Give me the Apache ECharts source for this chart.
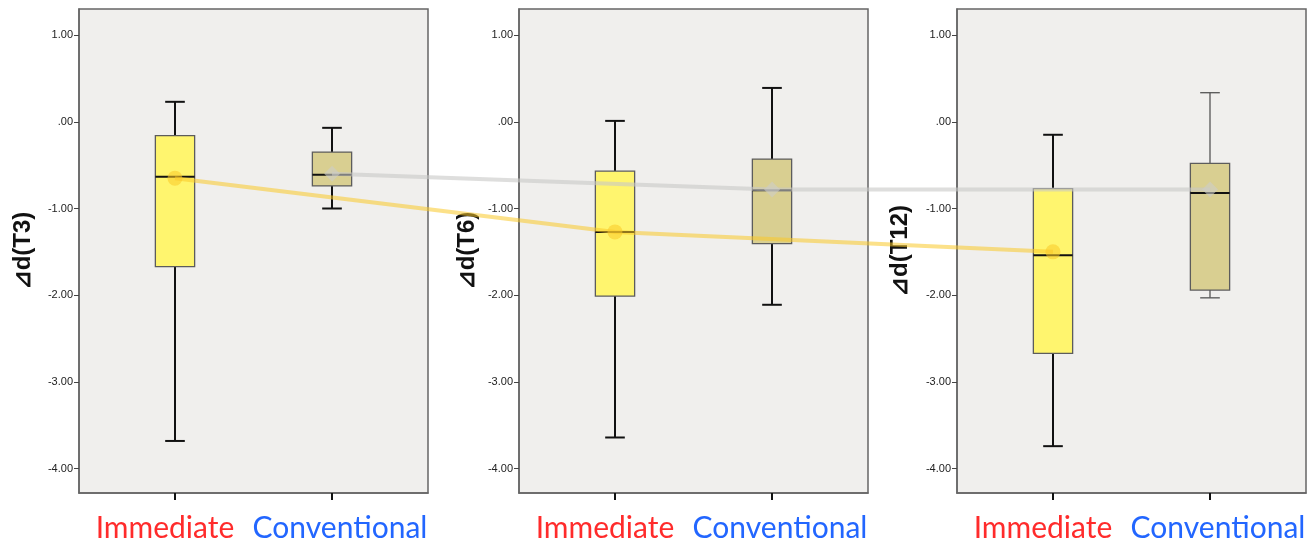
<!DOCTYPE html>
<html>
<head>
<meta charset="utf-8">
<title>delta d boxplots</title>
<script src="https://cdn.jsdelivr.net/npm/echarts@6/dist/echarts.min.js"></script>
<style>
    html, body { margin: 0; padding: 0; background: #ffffff; }
    #main { width: 1315px; height: 540px; }
</style>
</head>
<body>
<div id="main"></div>
<script>
var groupNames = ['Immediate', 'Conventional'];
var panelNames = ['⊿d(T3)', '⊿d(T6)', '⊿d(T12)'];
var yTicks = [-4, -3, -2, -1, 0, 1];
// 每个面板一组: [min, Q1, median, Q3, max]
var immediateBox = [
    [-3.68, -1.67, -0.635, -0.16, 0.23],
    [-3.64, -2.01, -1.27, -0.57, 0.01],
    [-3.74, -2.67, -1.54, -0.77, -0.15]
];
var conventionalBox = [
    [-1.00, -0.74, -0.61, -0.35, -0.07],
    [-2.11, -1.405, -0.79, -0.43, 0.39],
    [-2.03, -1.94, -0.82, -0.48, 0.335]
];
// 均值连线
var immediateMean = [-0.65, -1.27, -1.50];
var conventionalMean = [-0.60, -0.78, -0.78];

var panelLeft = [79, 519, 957];
var panelWidth = 349;
var plotTop = 9;
var plotBottom = 47;
var xMin = -0.611, xMax = 1.611;
var yMin = -4.28, yMax = 1.30;
var nameGaps = [44, 40, 45];
var unit = panelWidth / (xMax - xMin);
var overlayWidth = 1307 - panelLeft[0];

function fmtY(v) {
    var s = v.toFixed(2);
    if (s === '0.00') return '.00';
    return s;
}

function makeRender(p) {
    return function (params, api) {
        var x = api.value(0);
        var pMin = api.coord([x, api.value(1)]);
        var pQ1 = api.coord([x, api.value(2)]);
        var pMed = api.coord([x, api.value(3)]);
        var pQ3 = api.coord([x, api.value(4)]);
        var pMax = api.coord([x, api.value(5)]);
        var boxW = api.size([0.25, 0])[0];
        var capW = boxW / 2;
        var cx = Math.round(pMed[0]);
        var thin = (p === 2 && x === 1);
        var wStyle = { stroke: thin ? '#555' : '#111', lineWidth: thin ? 1.3 : 2 };
        var fill = x === 0 ? '#fff56e' : '#d9cf91';
        return {
            type: 'group',
            children: [
                { type: 'line', shape: { x1: cx, y1: pQ3[1], x2: cx, y2: pMax[1] }, style: wStyle },
                { type: 'line', shape: { x1: cx, y1: pQ1[1], x2: cx, y2: pMin[1] }, style: wStyle },
                { type: 'line', shape: { x1: cx - capW / 2, y1: pMax[1], x2: cx + capW / 2, y2: pMax[1] }, style: wStyle },
                { type: 'line', shape: { x1: cx - capW / 2, y1: pMin[1], x2: cx + capW / 2, y2: pMin[1] }, style: wStyle },
                {
                    type: 'rect',
                    shape: { x: cx - boxW / 2, y: pQ3[1], width: boxW, height: pQ1[1] - pQ3[1] },
                    style: { fill: fill, stroke: '#5c5c5c', lineWidth: 1.3 }
                },
                { type: 'line', shape: { x1: cx - boxW / 2, y1: pMed[1], x2: cx + boxW / 2, y2: pMed[1] }, style: { stroke: '#111', lineWidth: 2 } }
            ]
        };
    };
}

var grids = [], xAxes = [], yAxes = [], series = [];
for (var p = 0; p < 3; p++) {
    grids.push({
        left: panelLeft[p], width: panelWidth, top: plotTop, bottom: plotBottom,
        outerBoundsMode: 'none', containLabel: false,
        show: true, backgroundColor: '#f0efed', borderColor: '#666', borderWidth: 1.5
    });
    xAxes.push({
        gridIndex: p, type: 'value', min: xMin, max: xMax,
        splitLine: { show: false },
        axisLine: { show: true, onZero: false, lineStyle: { color: '#666', width: 1.5 } },
        axisTick: { show: true, customValues: [0, 1], length: 7, lineStyle: { color: '#111', width: 2 } },
        axisLabel: {
            show: true, customValues: [0, 1], margin: 20,
            formatter: function (v) {
                return v === 0 ? '{imm|' + groupNames[0] + '}' : '{con|' + groupNames[1] + '}';
            },
            rich: {
                imm: { color: '#ff2b2b', fontFamily: 'Lato', fontSize: 30, padding: [0, 20, 0, 0] },
                con: { color: '#2266ff', fontFamily: 'Lato', fontSize: 30, padding: [0, 0, 0, 16] }
            }
        }
    });
    yAxes.push({
        gridIndex: p, type: 'value', min: yMin, max: yMax,
        name: panelNames[p], nameLocation: 'middle', nameGap: nameGaps[p],
        nameTextStyle: { fontFamily: 'Liberation Sans', fontWeight: 'bold', fontSize: 24, color: '#111' },
        splitLine: { show: false },
        axisLine: { show: true, onZero: false, lineStyle: { color: '#666', width: 1.5 } },
        axisTick: { show: true, customValues: yTicks, length: 5, lineStyle: { color: '#444' } },
        axisLabel: {
            show: true, customValues: yTicks, margin: 6,
            fontFamily: 'Liberation Sans', fontSize: 11, color: '#222',
            formatter: fmtY
        }
    });
    series.push({
        type: 'custom',
        xAxisIndex: p, yAxisIndex: p,
        renderItem: makeRender(p),
        encode: { x: 0, y: [1, 2, 3, 4, 5] },
        data: [[0].concat(immediateBox[p]), [1].concat(conventionalBox[p])],
        z: 2
    });
}

// 跨面板的均值连线，用一个覆盖整个宽度的透明网格
grids.push({ left: panelLeft[0], width: overlayWidth, top: plotTop, bottom: plotBottom, outerBoundsMode: 'none', containLabel: false });
xAxes.push({ gridIndex: 3, type: 'value', min: xMin, max: xMin + overlayWidth / unit, show: false });
yAxes.push({ gridIndex: 3, type: 'value', min: yMin, max: yMax, show: false });

function meanPoints(means, g) {
    var pts = [];
    for (var i = 0; i < means.length; i++) {
        pts.push([(panelLeft[i] - panelLeft[0]) / unit + g, means[i]]);
    }
    return pts;
}

series.push({
    type: 'line', xAxisIndex: 3, yAxisIndex: 3, z: 5,
    data: meanPoints(conventionalMean, 1),
    symbol: 'diamond', symbolSize: 16,
    lineStyle: { color: 'rgba(200,200,198,0.6)', width: 4 },
    itemStyle: { color: 'rgba(205,205,200,0.6)' },
    silent: true, animation: false
});
series.push({
    type: 'line', xAxisIndex: 3, yAxisIndex: 3, z: 6,
    data: meanPoints(immediateMean, 0),
    symbol: 'circle', symbolSize: 15,
    lineStyle: { color: 'rgba(250,200,40,0.55)', width: 4 },
    itemStyle: { color: 'rgba(250,200,40,0.55)' },
    silent: true, animation: false
});

var chart = echarts.init(document.getElementById('main'));
chart.setOption({
    animation: false,
    backgroundColor: '#ffffff',
    grid: grids,
    xAxis: xAxes,
    yAxis: yAxes,
    series: series
});
</script>
</body>
</html>
